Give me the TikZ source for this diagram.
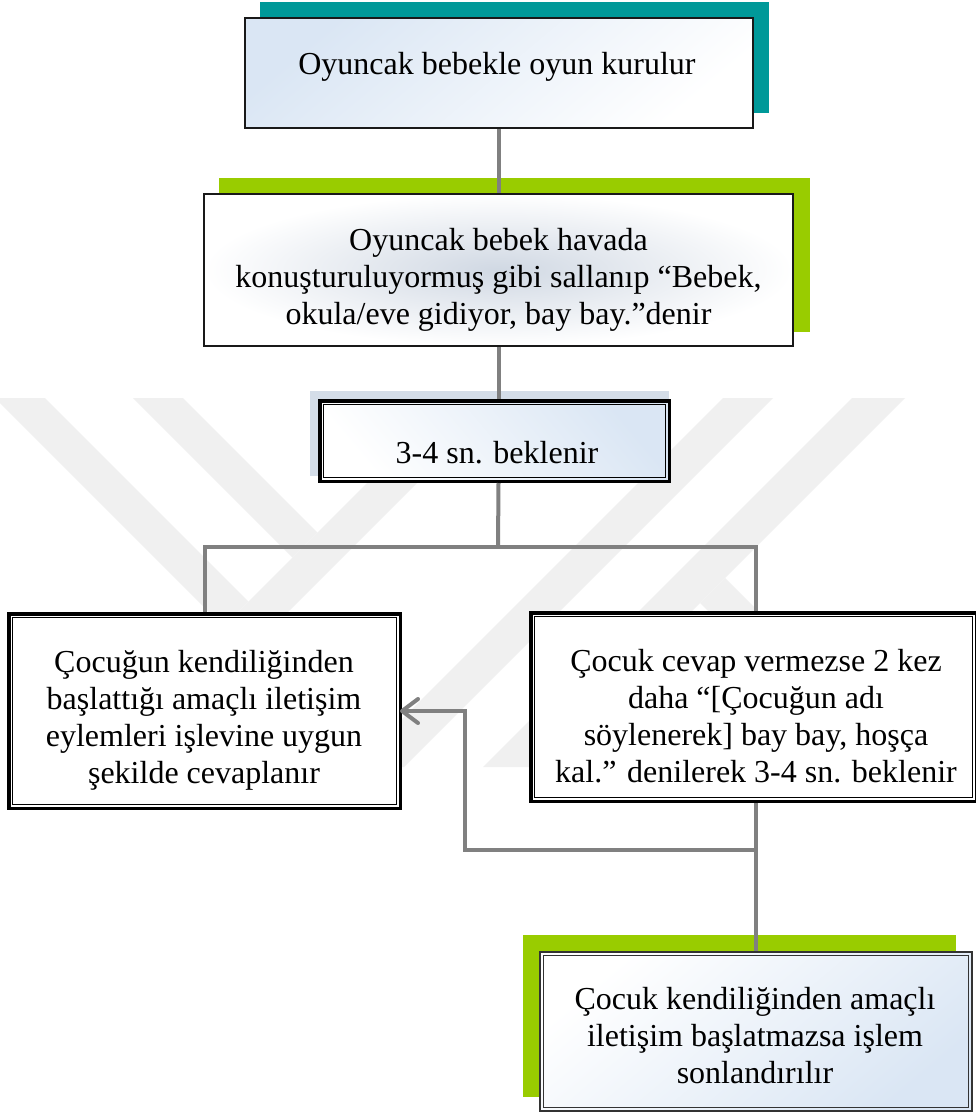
\documentclass[tikz,border=0pt]{standalone}
\usepackage{fontspec}
\setmainfont{Liberation Serif}
\usetikzlibrary{arrows.meta}

\definecolor{tealshadow}{RGB}{0,153,153}
\definecolor{limeshadow}{RGB}{153,204,0}
\definecolor{paleblue}{RGB}{218,230,244}
\definecolor{steelshadow}{RGB}{212,221,232}
\definecolor{glow}{RGB}{208,216,227}
\definecolor{linkgray}{RGB}{128,128,128}
\definecolor{markgray}{RGB}{240,240,240}

\begin{document}
\begin{tikzpicture}[x=1pt,y=-1pt,
  conn/.style={draw=linkgray, line width=4pt},
  plainbox/.style={rectangle, inner sep=0pt, draw=black!90, line width=2.2pt},
  dblbox/.style={rectangle, inner sep=0pt, draw=black, line width=3.5pt, fill=white},
  innerline/.style={draw=black, line width=1.4pt},
  txt/.style={font=\fontsize{32}{37}\selectfont, align=center, inner sep=0pt, text=black},
]
\useasboundingbox (0,0) rectangle (976,1113);
\fill[white] (0,0) rectangle (976,1113);

% faint background emblem made of diagonal stripes
\begin{scope}
  \clip (0,398) rectangle (976,767);
  \fill[markgray] (-5,398) -- (45,398) -- (248.5,601.5) -- (223.5,626.5) -- cycle;
  \fill[markgray] (133,398) -- (183,398) -- (317.5,532.5) -- (292.5,557.5) -- cycle;
  \fill[markgray] (452,398) -- (502,398) -- (133,767) -- (83,767) -- cycle;
  \fill[markgray] (723,398) -- (773,398) -- (404,767) -- (354,767) -- cycle;
  \fill[markgray] (852,398) -- (905,398) -- (536,767) -- (483,767) -- cycle;
  \fill[markgray] (700,603) -- (725,578) -- (914,767) -- (864,767) -- cycle;
\end{scope}

% offset colour panels behind the boxes
\fill[tealshadow] (260,2) rectangle (769,113);
\fill[limeshadow] (219,178) rectangle (810,332);
\fill[steelshadow] (310,391) rectangle (669,476);
\fill[limeshadow] (523,935) rectangle (956,1097);

% boxes
\node[plainbox, minimum width=507.8pt, minimum height=109.8pt,
      top color=paleblue, bottom color=white, shading angle=40] (b1) at (499,73) {};
\node[plainbox, minimum width=588.8pt, minimum height=151.8pt,
      inner color=glow, outer color=white] (b2) at (498.5,270) {};
\node[dblbox, minimum width=349.5pt, minimum height=80.5pt,
      top color=paleblue, bottom color=white, shading angle=-50] (b3) at (494.5,441) {};
\node[dblbox, minimum width=391.5pt, minimum height=194.5pt] (b4) at (204.5,711) {};
\node[dblbox, minimum width=445.5pt, minimum height=188.5pt] (b5) at (753.5,707) {};
\node[plainbox, draw=black!80, minimum width=431.8pt, minimum height=158.8pt,
      top color=white, bottom color=paleblue, shading angle=40] (b6) at (756,1031.5) {};

% inner rules of the double frames
\draw[innerline] ([shift={(5.5,5.5)}]b3.north west) rectangle ([shift={(-5.5,-5.5)}]b3.south east);
\draw[innerline] ([shift={(5.5,5.5)}]b4.north west) rectangle ([shift={(-5.5,-5.5)}]b4.south east);
\draw[innerline] ([shift={(5.5,5.5)}]b5.north west) rectangle ([shift={(-5.5,-5.5)}]b5.south east);
\draw[innerline, draw=black!80, line width=1pt] ([shift={(4.5,4.5)}]b6.north west) rectangle ([shift={(-4.5,-4.5)}]b6.south east);

% connectors
\coordinate (j) at (498,547);
\coordinate (k) at (756,850);
\coordinate (fb) at (465,850);
\draw[conn] (b1.south) -- (b1.south |- b2.north);
\draw[conn] (b2.south) -- (b2.south |- b3.north);
\draw[conn] (b2.south |- b3.south) -- (j);
\draw[conn] (b4.north) |- (j) -| (b6.north |- b5.north);
\draw[conn] (b5.south -| b6.north) -- (b6.north);
\draw[conn, -{Straight Barb[length=16pt, width=24pt, round]}, shorten >=-2pt]
  (k) -- (fb) |- (b4.east);

% texts
\node[txt, anchor=base] (t1) at (497,75) {Oyuncak bebekle oyun kurulur};
\node[txt] (t2) at (498.5,279.5) {Oyuncak bebek havada\\konuşturuluyormuş gibi sallanıp “Bebek,\\okula/eve gidiyor, bay bay.”denir};
\node[txt, anchor=base] (t3) at (497,463) {3-4 sn. beklenir};
\node[txt] (t4) at (204,720) {Çocuğun kendiliğinden\\başlattığı amaçlı iletişim\\eylemleri işlevine uygun\\şekilde cevaplanır};
\node[txt] (t5) at (756,716.5) {Çocuk cevap vermezse 2 kez\\daha “[Çocuğun adı\\söylenerek] bay bay, hoşça\\kal.” denilerek 3-4 sn. beklenir};
\node[txt] (t6) at (755,1035.5) {Çocuk kendiliğinden amaçlı\\iletişim başlatmazsa işlem\\sonlandırılır};
\end{tikzpicture}
\end{document}
